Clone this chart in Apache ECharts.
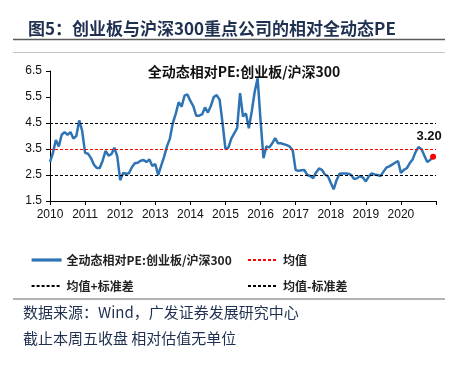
<!DOCTYPE html>
<html><head><meta charset="utf-8">
<script src="https://cdn.jsdelivr.net/npm/echarts@6/dist/echarts.min.js"></script>
<style>html,body{margin:0;padding:0;background:#fff}#c{width:461px;height:365px}</style>
</head><body><div id="c"></div>
<script>
const years = ['2010','2011','2012','2013','2014','2015','2016','2017','2018','2019','2020'];
const peValues = [
  3.0, 3.35, 3.85, 3.6, 4.05, 4.15, 4.05, 4.15, 3.9, 4.0, 4.6, 4.2,
  3.35, 3.32, 3.15, 2.9, 2.77, 2.77, 3.05, 3.43, 3.25, 3.3, 3.55, 3.22,
  2.3, 2.58, 2.55, 2.57, 2.8, 2.95, 2.97, 3.05, 3.08, 3.0, 3.1, 2.85,
  2.92, 2.5, 2.85, 3.2, 3.6, 3.9, 4.5, 4.85, 5.3, 5.13, 5.55, 5.6,
  5.35, 5.15, 4.78, 4.78, 4.83, 5.1, 4.9, 5.15, 5.5, 5.57, 5.4, 4.5,
  3.5, 3.55, 3.9, 4.1, 4.3, 5.65, 4.75, 4.87, 4.3, 4.95, 5.7, 6.22,
  4.6, 3.15, 3.6, 3.56, 3.72, 3.92, 3.72, 3.72, 3.68, 3.65, 3.59, 3.45,
  2.69, 2.66, 2.68, 2.69, 2.5, 2.46, 2.38, 2.6, 2.75, 2.7, 2.52, 2.46,
  2.2, 1.95, 2.3, 2.55, 2.56, 2.56, 2.55, 2.5, 2.35, 2.37, 2.46, 2.4,
  2.25, 2.45, 2.56, 2.52, 2.5, 2.46, 2.62, 2.78, 2.83, 2.9, 2.97, 3.04,
  2.58, 2.7, 2.76, 2.95, 3.1, 3.38, 3.57, 3.5, 3.25, 3.0, 3.08, 3.2
];
const meanValue = [3.5];
const upperValue = [4.5];
const lowerValue = [2.5];
const seriesNames = ['全动态相对PE:创业板/沪深300', '均值', '均值+标准差', '均值-标准差'];

// monthly categories, plus one closing month so the axis ends at the next year's tick
const months = [];
years.forEach(y => { for (let m = 1; m <= 12; m++) months.push(y + '-' + String(m).padStart(2, '0')); });
months.push(String(+years[years.length - 1] + 1) + '-01');

const lastIdx = peValues.length - 1;
const peData = peValues.map((v, i) => i === lastIdx ? {
  value: v, symbol: 'circle', symbolSize: 6,
  itemStyle: { color: '#ff0000' },
  label: { show: true, position: 'top', distance: 11, offset: [-4, 0],
    formatter: p => Number(p.value).toFixed(2),
    fontSize: 13, fontWeight: 'bold', color: '#111',
    fontFamily: "'Liberation Sans', Arial, sans-serif" }
} : v);

const latin = "'Liberation Sans', Arial, 'Noto Sans CJK SC', sans-serif";
const cjk = "'Noto Sans CJK SC', 'Liberation Sans', sans-serif";
const navy = '#1f3050';

function refLine(name, val, color) {
  return {
    name: name, type: 'line', data: [], symbol: 'none', z: 1,
    lineStyle: { color: color, type: [3, 2], width: 1.2 },
    itemStyle: { color: color },
    markLine: { silent: true, symbol: ['none', 'none'], label: { show: false },
      lineStyle: { color: color, type: [3, 2], width: 1.2 },
      data: [{ yAxis: val }] }
  };
}

const legendCommon = {
  orient: 'vertical', top: 249, itemWidth: 30, itemHeight: 14, itemGap: 14,
  itemStyle: { opacity: 0 },
  textStyle: { fontSize: 12, fontWeight: 'bold', color: '#222', fontFamily: cjk }
};

const chart = echarts.init(document.getElementById('c'), null, { renderer: 'canvas' });
chart.setOption({
  animation: false,
  backgroundColor: '#fff',
  title: [
    { text: '图5：创业板与沪深300重点公司的相对全动态PE', left: 23, top: 15,
      textStyle: { fontSize: 17, fontWeight: 'bold', color: navy, fontFamily: cjk } },
    { text: '全动态相对PE:创业板/沪深300', left: 239, top: 60, textAlign: 'center',
      textStyle: { fontSize: 14, fontWeight: 'bold', color: '#111', fontFamily: cjk } }
  ],
  grid: { left: 50, right: 25, top: 71, bottom: 164 },
  legend: [
    Object.assign({ data: [{ name: seriesNames[0], lineStyle: { width: 3.2 } }, seriesNames[2]], left: 25 }, legendCommon),
    Object.assign({ data: [seriesNames[1], seriesNames[3]], left: 242 }, legendCommon)
  ],
  xAxis: {
    type: 'category', data: months, boundaryGap: false,
    axisLine: { lineStyle: { color: '#000', width: 1 } },
    axisTick: { length: 4, interval: (i) => i % 12 === 0, lineStyle: { color: '#000' } },
    axisLabel: { interval: (i) => i % 12 === 0 && i < months.length - 1,
      formatter: v => v.slice(0, 4), color: '#111', fontSize: 12, margin: 8, fontFamily: latin },
    splitLine: { show: false }
  },
  yAxis: {
    type: 'value', min: 1.5, max: 6.5, interval: 1,
    axisLine: { show: true, lineStyle: { color: '#000', width: 1 } },
    axisTick: { show: true, length: 4, lineStyle: { color: '#000' } },
    axisLabel: { formatter: v => v.toFixed(1), color: '#111', fontSize: 12, margin: 8, fontFamily: latin },
    splitLine: { show: false }
  },
  series: [
    { name: seriesNames[0], type: 'line', data: peData, symbol: 'none', showSymbol: true, showAllSymbol: true,
      z: 3, lineStyle: { color: '#2e74b5', width: 2.5 }, itemStyle: { color: '#2e74b5' } },
    refLine(seriesNames[1], meanValue[0], '#ff0000'),
    refLine(seriesNames[2], upperValue[0], '#000000'),
    refLine(seriesNames[3], lowerValue[0], '#000000')
  ],
  graphic: [
    { type: 'line', shape: { x1: 13, y1: 39.5, x2: 445, y2: 39.5 }, style: { stroke: '#5a5a5a', lineWidth: 1.5 } },
    { type: 'line', shape: { x1: 13, y1: 52.5, x2: 445, y2: 52.5 }, style: { stroke: '#c4c4c4', lineWidth: 1 } },
    { type: 'line', shape: { x1: 13, y1: 299, x2: 445, y2: 299 }, style: { stroke: '#9a9a9a', lineWidth: 1.5 } },
    { type: 'text', left: 23, top: 305, style: { text: '数据来源：Wind，广发证券发展研究中心', fontSize: 15, fill: navy, fontFamily: cjk } },
    { type: 'text', left: 23, top: 331, style: { text: '截止本周五收盘 相对估值无单位', fontSize: 15, fill: navy, fontFamily: cjk } }
  ]
});
</script>
</body></html>
